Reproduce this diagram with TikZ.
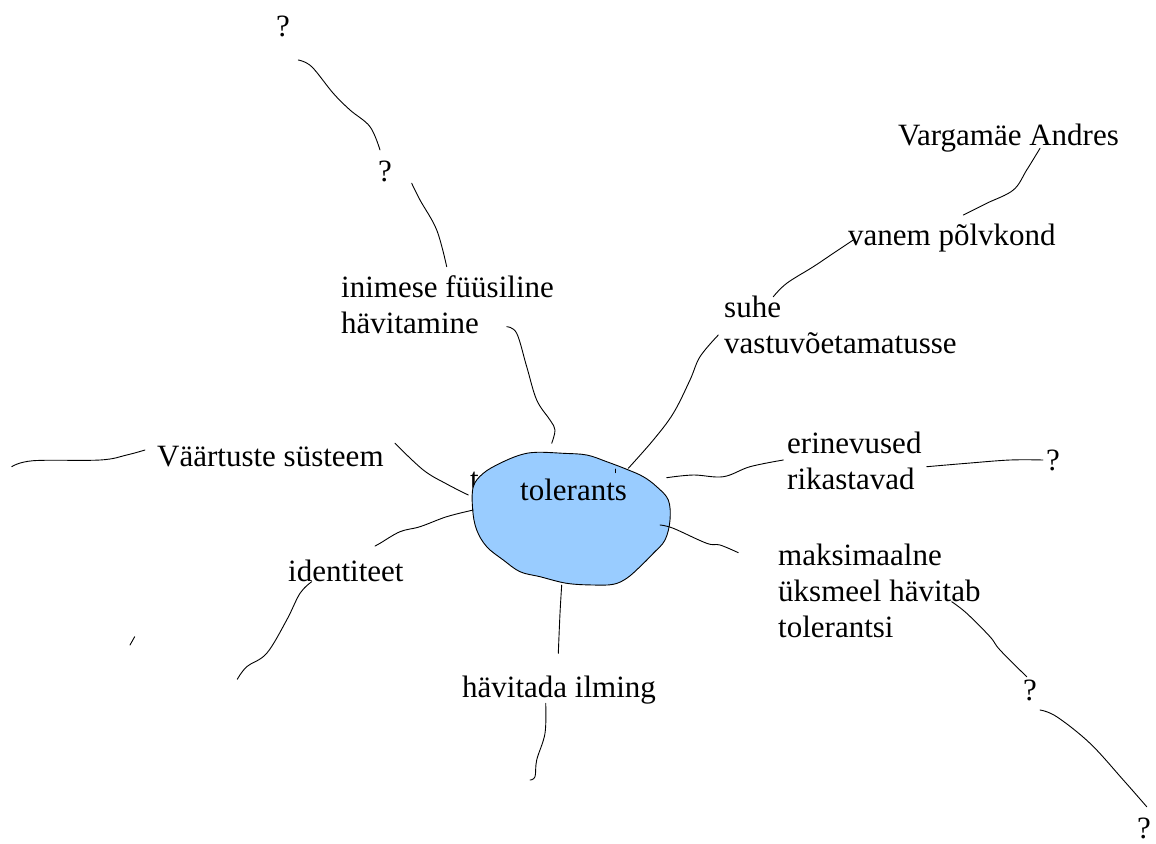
\documentclass[tikz,border=0pt]{standalone}
\usepackage{fontspec}
\setmainfont{Liberation Serif}
\definecolor{blobblue}{HTML}{99CCFF}
\begin{document}
\begin{tikzpicture}[x=1pt,y=-1pt,
  lbl/.style={font=\fontsize{31}{36}\selectfont, inner sep=0pt, anchor=base west, align=left},
  conn/.style={line width=0.9pt, line cap=round, line join=round},
  blobstyle/.style={draw=black, line width=0.9pt, fill=blobblue}]
\useasboundingbox (0,0) rectangle (1156,843);

% labels (multi-line labels are placed by the baseline of their last line)
\node[lbl] (q1) at (276,37) {?};
\node[lbl] (q2) at (378,181) {?};
\node[lbl] (inim) at (341,333) {inimese füüsiline\\hävitamine};
\node[lbl] (vaar) at (157,466) {Väärtuste süsteem};
\node[lbl] (t) at (470,489) {t};

% central blob
\draw[blobstyle] plot[smooth cycle, tension=0.6] coordinates {
 (473.3,486.7) (483.3,473.3) (500,463.3) (520,455) (536.7,452.3) (563.3,453.3)
 (586.7,455) (606.7,461.7) (626.7,469.3) (643.3,476.7) (656.7,486.7) (668.3,500)
 (670,520) (665,540) (653.3,553.3) (640,566.7) (626.7,578.3) (613.3,584.3)
 (593.3,585) (566.7,583.3) (540,576.7) (520,571.7) (503.3,560) (486.7,546.7)
 (476.7,530) (472.7,510)};
\draw[conn] (615.7,469) -- (615.7,472.7);
\node[lbl] (tol) at (520,500) {tolerants};

\node[lbl] (ident) at (288,581) {identiteet};
\node[lbl] (havi) at (462,697) {hävitada ilming};
\node[lbl] (suhe) at (724,353) {suhe\\vastuvõetamatusse};
\node[lbl] (vanem) at (848,245) {vanem põlvkond};
\node[lbl] (varg) at (898,145) {Vargamäe Andres};
\node[lbl] (erin) at (787,489) {erinevused\\rikastavad};
\node[lbl] (q3) at (1046,470) {?};
\node[lbl] (maks) at (778,637) {maksimaalne\\üksmeel hävitab\\tolerantsi};
\node[lbl] (q4) at (1023,700) {?};
\node[lbl] (q5) at (1137,838) {?};

% connector end points
\coordinate (q1s) at (298.3,60);
\coordinate (q2e) at (380,150);
\coordinate (q2s) at (411.7,183.3);
\coordinate (inimT) at (446.7,266.7);
\coordinate (inimB) at (506.7,326.7);
\coordinate (blobN) at (551.7,443.3);
\coordinate (vaarL) at (145,450);
\coordinate (farL) at (11.7,466.7);
\coordinate (vaarR) at (395,443.3);
\coordinate (blobW1) at (468.3,495);
\coordinate (blobW2) at (473.3,510);
\coordinate (identT) at (375,546);
\coordinate (identB) at (311.7,581.7);
\coordinate (farSW) at (237.3,679.3);
\coordinate (strokeA) at (130,645);
\coordinate (strokeB) at (134.7,636.7);
\coordinate (blobNE) at (628.3,468.3);
\coordinate (suheL) at (718.3,335);
\coordinate (suheT) at (773.3,296.7);
\coordinate (vanemL) at (853.3,240);
\coordinate (vanemT) at (963.3,215);
\coordinate (vargB) at (1040,148.3);
\coordinate (blobE) at (666.7,477.7);
\coordinate (erinL) at (783.3,460);
\coordinate (erinR) at (926.7,466.7);
\coordinate (q3L) at (1043,460);
\coordinate (blobSE) at (660,525);
\coordinate (maksL) at (738.3,552.7);
\coordinate (maksB) at (951.7,601.7);
\coordinate (q4T) at (1026.7,676.7);
\coordinate (q4B) at (1040,710);
\coordinate (q5T) at (1146.7,806.7);
\coordinate (blobS) at (561.7,585);
\coordinate (haviT) at (558.3,653.3);
\coordinate (haviB) at (545.7,703.3);
\coordinate (farS) at (530,780);

% connectors
\draw[conn] plot[smooth, tension=0.6] coordinates {(q1s) (311.7,66.7) (333,93) (350,110) (370,126.7) (q2e)};
\draw[conn] plot[smooth, tension=0.6] coordinates {(q2s) (420,200) (436.7,230) (inimT)};
\draw[conn] plot[smooth, tension=0.6] coordinates {(inimB) (516.7,333.3) (526.7,366.7) (536.7,400) (550,420) (555,430) (blobN)};
\draw[conn] plot[smooth, tension=0.6] coordinates {(vaarL) (126.7,455) (100,460) (33.3,460.7) (farL)};
\draw[conn] plot[smooth, tension=0.6] coordinates {(vaarR) (423.3,470) (446.7,484) (blobW1)};
\draw[conn] plot[smooth, tension=0.6] coordinates {(blobW2) (446.7,516.7) (420,526.7) (400,531.7) (380,543.3) (identT)};
\draw[conn] plot[smooth, tension=0.6] coordinates {(identB) (300,593.3) (286.7,620) (266.7,653.3) (246.7,666.7) (farSW)};
\draw[conn] (strokeA) -- (strokeB);
\draw[conn] plot[smooth, tension=0.6] coordinates {(blobNE) (653.3,440) (673.3,413.3) (690,380) (700,356.7) (suheL)};
\draw[conn] plot[smooth, tension=0.6] coordinates {(suheT) (786.7,283.3) (813.3,266.7) (833.3,253.3) (vanemL)};
\draw[conn] plot[smooth, tension=0.6] coordinates {(vanemT) (986.7,203.3) (1013.3,190) (1026.7,170) (vargB)};
\draw[conn] plot[smooth, tension=0.6] coordinates {(blobE) (693.3,475) (723.3,476.7) (750,466.7) (erinL)};
\draw[conn] plot[smooth, tension=0.6] coordinates {(erinR) (966.7,463.3) (1010,460) (q3L)};
\draw[conn] plot[smooth, tension=0.6] coordinates {(blobSE) (673.3,528.3) (706.7,543.3) (720,545) (maksL)};
\draw[conn] plot[smooth, tension=0.6] coordinates {(maksB) (966.7,613.3) (990,636.7) (1000,650) (q4T)};
\draw[conn] plot[smooth, tension=0.6] coordinates {(q4B) (1056.7,716.7) (1090,743.3) (1123.3,780) (q5T)};
\draw[conn] plot[smooth, tension=0.6] coordinates {(blobS) (560,613.3) (haviT)};
\draw[conn] plot[smooth, tension=0.6] coordinates {(haviB) (545,733.3) (536.7,760) (535,776.7) (farS)};
\end{tikzpicture}
\end{document}
